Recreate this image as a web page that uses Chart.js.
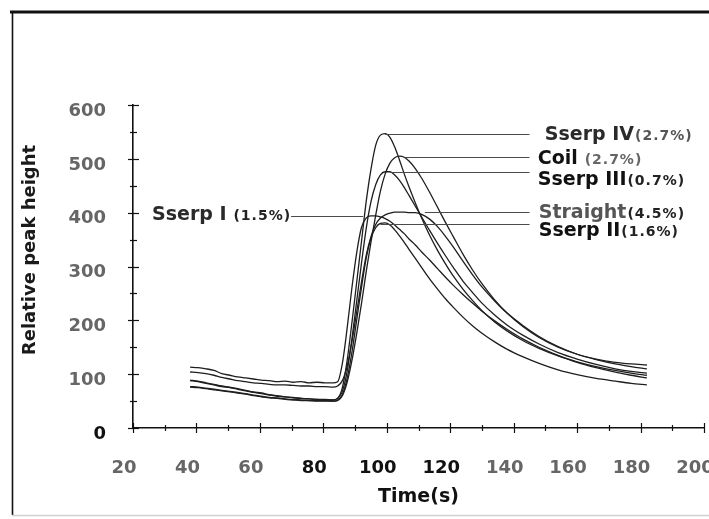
<!DOCTYPE html>
<html>
<head>
<meta charset="utf-8">
<script src="https://cdn.jsdelivr.net/npm/chart.js@4/dist/chart.umd.min.js"></script>
<style>
html,body{margin:0;padding:0;background:#fff;}
#wrap{position:relative;width:709px;height:519px;}
canvas{display:block;}
</style>
</head>
<body>
<div id="wrap"><canvas id="c" width="709" height="519" style="width:709px;height:519px"></canvas></div>
<script>
// ---- data ----
const time = [38,40.5,43,45.5,48,50.5,53,55.5,58,60.5,63,65.5,68,70.5,73,75.5,78,80.5,83,
  84.5,86,87.5,89,90.5,92,93.5,95,96.5,98,99.5,101,102.5,104,105.5,107,
  109,111,113.5,116,118.5,121,124,127,130,134,138,143,148,154,160,166,172,177,182];

const sserpI = [113,112,110,107,101,98,95,93,91,89,88,86,87,85,86,84,85,84,84,
  86,120,185,260,325,372,390,394,394,392,389,384,377,369,361,351,
  340,327,312,296,280,265,248,232,217,199,183,165,150,135,122,112,104,98,93];
const sserpII = [77,76,74,72,70,68,66,64,61,59,57,56,54,53,52,51,51,51,50,
  52,62,92,140,200,260,315,352,372,380,381,377,368,357,345,332,
  315,298,277,258,240,224,206,190,176,160,146,132,120,108,99,92,87,83,80];
const sserpIII = [88,86,83,80,77,75,72,69,66,64,61,59,58,56,55,54,53,52,52,
  55,68,105,165,235,305,370,420,452,470,476,476,470,460,447,432,
  412,392,367,343,320,298,273,252,232,210,191,172,156,140,128,118,110,105,102];
const sserpIV = [89,87,84,81,78,76,73,70,67,65,62,60,58,57,55,54,53,53,52,
  55,75,125,195,270,345,420,480,525,544,547,540,522,498,472,448,
  418,390,358,330,305,282,258,237,218,197,180,162,148,134,123,114,107,102,98];
const coil = [76,75,73,71,69,67,65,63,60,58,56,55,53,52,51,51,50,50,50,
  51,60,85,125,175,230,290,345,395,440,472,492,502,505,503,496,
  482,464,438,410,382,355,323,294,268,238,213,188,168,150,137,128,122,119,117];
const straight = [104,103,101,98,94,91,88,86,84,83,81,80,80,79,78,78,77,77,76,
  78,88,115,160,215,270,320,355,378,390,396,399,401,401,401,400,
  400,397,388,374,356,336,310,285,262,236,213,190,170,151,137,127,119,114,110];

const seriesNames = ['Sserp I','Sserp II','Sserp III','Sserp IV','Coil','Straight'];
const seriesNotes = ['(1.5%)','(1.6%)','(0.7%)','(2.7%)','(2.7%)','(4.5%)'];
const seriesValues = [sserpI, sserpII, sserpIII, sserpIV, coil, straight];

const xTickLabels = [20,40,60,80,100,120,140,160,180,200];
const yTickLabels = [0,100,200,300,400,500,600];

// ---- callout placement (positions, in data units) ----
const callouts = [
  {s:3, sep:'',  leaderY:547, from:99.5, to:145, textX:149.8, textY:548, side:'right', nameColor:'#2a2a2a', noteColor:'#555'},
  {s:4, sep:' ', leaderY:504, from:105.5, to:145, textX:147.6, textY:504, side:'right', nameColor:'#111', noteColor:'#666'},
  {s:2, sep:'',  leaderY:476, from:101, to:145, textX:147.6, textY:465, side:'right', nameColor:'#111', noteColor:'#222'},
  {s:5, sep:'',  leaderY:401, from:112, to:145, textX:147.9, textY:403, side:'right', nameColor:'#555', noteColor:'#222'},
  {s:1, sep:'',  leaderY:379, from:98, to:145, textX:147.9, textY:370, side:'right', nameColor:'#111', noteColor:'#222'},
  {s:0, sep:' ', leaderY:393, from:null, to:92.5, textX:26, textY:400, side:'left', nameColor:'#2a2a2a', noteColor:'#222'}
];

const FAMILY = '"DejaVu Sans", "Liberation Sans", sans-serif';
const NAME_FONT = 'bold 19px ' + FAMILY;
const NOTE_FONT = 'bold 14px ' + FAMILY;

const datasets = seriesNames.map((n,i)=>({
  label: n + ' ' + seriesNotes[i],
  data: time.map((t,k)=>({x:t, y:seriesValues[i][k]})),
  borderColor:'#1e1e1e',
  borderWidth:1.3,
  pointRadius:0,
  cubicInterpolationMode:'monotone',
  fill:false
}));

const framePlugin = {
  id:'frame',
  beforeDraw(chart){
    const ctx = chart.ctx;
    ctx.save();
    ctx.fillStyle = '#fff';
    ctx.fillRect(0,0,chart.width,chart.height);
    ctx.strokeStyle = '#111';
    ctx.lineWidth = 3;
    ctx.beginPath(); ctx.moveTo(10,12); ctx.lineTo(chart.width,12); ctx.stroke();
    ctx.lineWidth = 1.6;
    ctx.beginPath(); ctx.moveTo(12.5,11); ctx.lineTo(12.5,515); ctx.stroke();
    ctx.strokeStyle = '#d0d0d0'; ctx.lineWidth = 1.5;
    ctx.beginPath(); ctx.moveTo(12,515.5); ctx.lineTo(chart.width,515.5); ctx.stroke();
    ctx.restore();
  }
};

const tickPlugin = {
  id:'crossTicks',
  afterDraw(chart){
    const {ctx, scales:{x,y}} = chart;
    ctx.save();
    ctx.strokeStyle = '#111';
    ctx.lineWidth = 1.2;
    x.ticks.forEach(t=>{
      const px = Math.round(x.getPixelForValue(t.value))+0.5;
      const a = (t.value % 20 === 0) ? 5 : 3;
      ctx.beginPath(); ctx.moveTo(px, y.bottom - a); ctx.lineTo(px, y.bottom + a); ctx.stroke();
    });
    y.ticks.forEach(t=>{
      const py = Math.round(y.getPixelForValue(t.value))+0.5;
      const a = (t.value % 100 === 0) ? 5 : 3;
      ctx.beginPath(); ctx.moveTo(x.left - a, py); ctx.lineTo(x.left + a + 1, py); ctx.stroke();
    });
    // y axis title
    ctx.fillStyle = '#1a1a1a';
    ctx.font = 'bold 18px ' + FAMILY;
    ctx.textAlign = 'center';
    ctx.textBaseline = 'middle';
    ctx.translate(30, 250);
    ctx.rotate(-Math.PI/2);
    ctx.fillText('Relative peak height', 0, 0);
    ctx.restore();
  }
};

const calloutPlugin = {
  id:'callouts',
  afterDatasetsDraw(chart){
    const {ctx, scales:{x,y}} = chart;
    ctx.save();
    callouts.forEach(c=>{
      const name = seriesNames[c.s];
      const note = c.sep + seriesNotes[c.s];
      const tx = x.getPixelForValue(c.textX);
      const base = y.getPixelForValue(c.textY) + 7;
      ctx.font = NAME_FONT;
      const nw = ctx.measureText(name).width;
      ctx.font = NOTE_FONT;
      try { ctx.letterSpacing = '1px'; } catch(e) {}
      const pw = ctx.measureText(note).width;
      try { ctx.letterSpacing = '0px'; } catch(e) {}
      const ly = Math.round(y.getPixelForValue(c.leaderY)) + 0.5;
      let x1, x2;
      if (c.side === 'right') { x1 = x.getPixelForValue(c.from); x2 = x.getPixelForValue(c.to); }
      else { x1 = tx + nw + pw + 1; x2 = x.getPixelForValue(c.to); }
      ctx.strokeStyle = '#4a4a4a';
      ctx.lineWidth = 1;
      ctx.beginPath(); ctx.moveTo(x1, ly); ctx.lineTo(x2, ly); ctx.stroke();
      ctx.textAlign = 'left';
      ctx.textBaseline = 'alphabetic';
      ctx.font = NAME_FONT;
      ctx.fillStyle = c.nameColor;
      ctx.fillText(name, tx, base);
      ctx.font = NOTE_FONT;
      try { ctx.letterSpacing = '1px'; } catch(e) {}
      ctx.fillStyle = c.noteColor;
      ctx.fillText(note, tx + nw + 1, base);
      try { ctx.letterSpacing = '0px'; } catch(e) {}
    });
    ctx.restore();
  }
};

const grayX = v => (v===80||v===100||v===120) ? '#111' : '#666';
const grayY = v => (v===0) ? '#111' : '#666';

new Chart(document.getElementById('c'), {
  type:'line',
  data:{datasets},
  plugins:[framePlugin, calloutPlugin, tickPlugin],
  options:{
    responsive:false,
    animation:false,
    devicePixelRatio:1,
    layout:{padding:{top:105, right:5, left:0, bottom:0}},
    plugins:{legend:{display:false}, tooltip:{enabled:false}, title:{display:false}},
    scales:{
      x:{
        type:'linear', min:20, max:200,
        afterFit(s){ s.height = 91; s.paddingLeft = 0; s.paddingRight = 0; },
        ticks:{
          stepSize:10, autoSkip:false, maxRotation:0, minRotation:0,
          callback:(v)=> xTickLabels.includes(v) ? String(v) : '',
          font:{family:FAMILY, weight:'bold', size:18},
          color:(ctx)=> grayX(ctx.tick ? ctx.tick.value : 0),
          padding:30, labelOffset:-9
        },
        grid:{drawOnChartArea:false, drawTicks:false},
        border:{display:true, color:'#111', width:1.6},
        title:{display:true, text:'Time(s)', color:'#111',
          font:{family:FAMILY, weight:'bold', size:19}, padding:{top:0, bottom:11}}
      },
      y:{
        type:'linear', min:0, max:600,
        afterFit(s){ s.width = 133; s.paddingTop = 0; s.paddingBottom = 0; },
        ticks:{
          stepSize:50, autoSkip:false,
          callback:(v)=> yTickLabels.includes(v) ? String(v) : '',
          font:{family:FAMILY, weight:'bold', size:18},
          color:(ctx)=> grayY(ctx.tick ? ctx.tick.value : 0),
          padding:27, labelOffset:6
        },
        grid:{drawOnChartArea:false, drawTicks:false},
        border:{display:true, color:'#111', width:1.6}
      }
    }
  }
});
</script>
</body>
</html>
